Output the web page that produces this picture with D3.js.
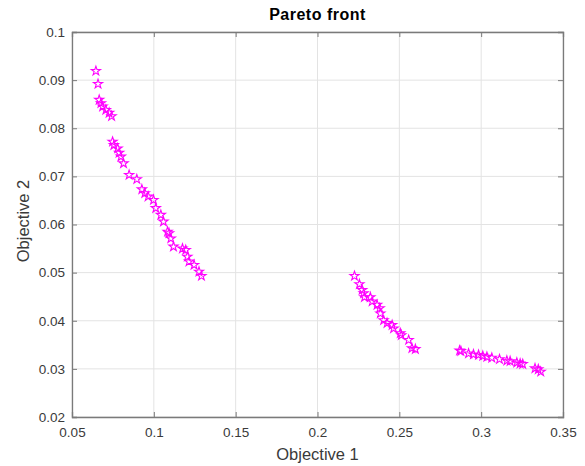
<!DOCTYPE html>
<html>
<head>
<meta charset="utf-8">
<script src="https://cdn.jsdelivr.net/npm/d3@7"></script>
<style>
  body { margin: 0; background: #fff; }
  svg text { font-family: "Liberation Sans", Arial, sans-serif; fill: #3a3a3a; }
</style>
</head>
<body>
<div id="chart"></div>
<script>
// Werte (drei Gruppen der Front)
const obj1A = [0.0646, 0.0659, 0.0666, 0.0677, 0.0687, 0.0707, 0.0727, 0.0742, 0.0748, 0.0756,
  0.0779, 0.0788, 0.0799, 0.0815, 0.0849, 0.0896, 0.0927, 0.0945, 0.0965, 0.0998,
  0.1012, 0.1043, 0.1059, 0.1084, 0.1093, 0.1104, 0.1120, 0.1175, 0.1195, 0.1205,
  0.1215, 0.1246, 0.1276, 0.1291];
const obj2A = [0.0919, 0.0892, 0.0859, 0.0852, 0.0845, 0.0838, 0.0832, 0.0825, 0.0772, 0.0765,
  0.0758, 0.0749, 0.0741, 0.0727, 0.0703, 0.0694, 0.0673, 0.0665, 0.0658, 0.0651,
  0.0634, 0.0620, 0.0606, 0.0585, 0.0582, 0.0571, 0.0554, 0.0550, 0.0547, 0.0533,
  0.0523, 0.0516, 0.0502, 0.0493];
const obj1B = [0.2226, 0.2256, 0.2273, 0.2282, 0.2287, 0.2323, 0.2334, 0.2364, 0.2380, 0.2384,
  0.2404, 0.2425, 0.2456, 0.2465, 0.2506, 0.2512, 0.2557, 0.2577, 0.2598];
const obj2B = [0.0493, 0.0476, 0.0464, 0.0457, 0.0449, 0.0449, 0.0440, 0.0433, 0.0426, 0.0415,
  0.0401, 0.0395, 0.0391, 0.0384, 0.0374, 0.0370, 0.0360, 0.0343, 0.0341];
const obj1C = [0.2868, 0.2876, 0.2923, 0.2953, 0.2984, 0.3010, 0.3035, 0.3065, 0.3112, 0.3157,
  0.3177, 0.3218, 0.3238, 0.3254, 0.3329, 0.3349, 0.3364];
const obj2C = [0.0338, 0.0337, 0.0332, 0.0330, 0.0329, 0.0327, 0.0325, 0.0323, 0.0320, 0.0317,
  0.0316, 0.0313, 0.0311, 0.0310, 0.0301, 0.0299, 0.0294];

const xTicks = [0.05, 0.1, 0.15, 0.2, 0.25, 0.3, 0.35];
const yTicks = [0.02, 0.03, 0.04, 0.05, 0.06, 0.07, 0.08, 0.09, 0.1];

const points = obj1A.map((v, i) => ({ x: v, y: obj2A[i] }))
  .concat(obj1B.map((v, i) => ({ x: v, y: obj2B[i] })))
  .concat(obj1C.map((v, i) => ({ x: v, y: obj2C[i] })));

// Layout
const W = 585, H = 466;
const margin = { top: 32, right: 22, bottom: 49, left: 72 };
const width = W - margin.left - margin.right;
const height = H - margin.top - margin.bottom;
const axisColor = "#7a7a7a";
const labelColor = "#3a3a3a";

const root = d3.select("#chart").append("svg")
  .attr("width", W).attr("height", H);
const svg = root.append("g")
  .attr("transform", `translate(${margin.left},${margin.top})`);

const xScale = d3.scaleLinear().domain([0.05, 0.35]).range([0, width]);
const yScale = d3.scaleLinear().domain([0.02, 0.1]).range([height, 0]);

// Gitterlinien
svg.append("g").selectAll("line").data(xTicks).join("line")
  .attr("x1", d => xScale(d)).attr("x2", d => xScale(d))
  .attr("y1", 0).attr("y2", height)
  .attr("stroke", "#e3e3e3").attr("stroke-width", 1);
svg.append("g").selectAll("line").data(yTicks).join("line")
  .attr("y1", d => yScale(d)).attr("y2", d => yScale(d))
  .attr("x1", 0).attr("x2", width)
  .attr("stroke", "#e3e3e3").attr("stroke-width", 1);

// Achsen (Ticks nach innen, auch oben und rechts)
const fmt = d => String(+d.toFixed(4));
const xAxis = svg.append("g").attr("transform", `translate(0,${height})`)
  .call(d3.axisBottom(xScale).tickValues(xTicks).tickSize(-5).tickPadding(10).tickFormat(fmt));
const xTop = svg.append("g")
  .call(d3.axisTop(xScale).tickValues(xTicks).tickSize(-5).tickFormat(""));
const yAxis = svg.append("g")
  .call(d3.axisLeft(yScale).tickValues(yTicks).tickSize(-5).tickPadding(7).tickFormat(fmt));
const yRight = svg.append("g").attr("transform", `translate(${width},0)`)
  .call(d3.axisRight(yScale).tickValues(yTicks).tickSize(-5).tickFormat(""));

[xAxis, xTop, yAxis, yRight].forEach(a => {
  a.selectAll(".domain").attr("stroke", axisColor).attr("stroke-width", 1.3);
  a.selectAll(".tick line").attr("stroke", axisColor);
  a.selectAll(".tick text").attr("fill", labelColor).style("font-size", "13.5px");
});

// Sterne
const star = d3.symbol().type(d3.symbolStar).size(26);
svg.append("g").selectAll("path").data(points).join("path")
  .attr("transform", d => `translate(${xScale(d.x)},${yScale(d.y)})`)
  .attr("d", star)
  .attr("fill", "none")
  .attr("stroke", "#ff00ff")
  .attr("stroke-width", 1.1);

// Beschriftungen
root.append("text")
  .attr("x", margin.left + width / 2).attr("y", 19.5)
  .attr("text-anchor", "middle")
  .style("font-size", "16px").style("font-weight", "bold")
  .style("letter-spacing", "0.5px")
  .style("fill", "#000")
  .text("Pareto front");

root.append("text")
  .attr("x", margin.left + width / 2).attr("y", 459.5)
  .attr("text-anchor", "middle")
  .style("font-size", "16.5px")
  .text("Objective 1");

root.append("text")
  .attr("transform", `translate(28.5,221) rotate(-90)`)
  .attr("text-anchor", "middle")
  .style("font-size", "16.5px")
  .text("Objective 2");
</script>
</body>
</html>
